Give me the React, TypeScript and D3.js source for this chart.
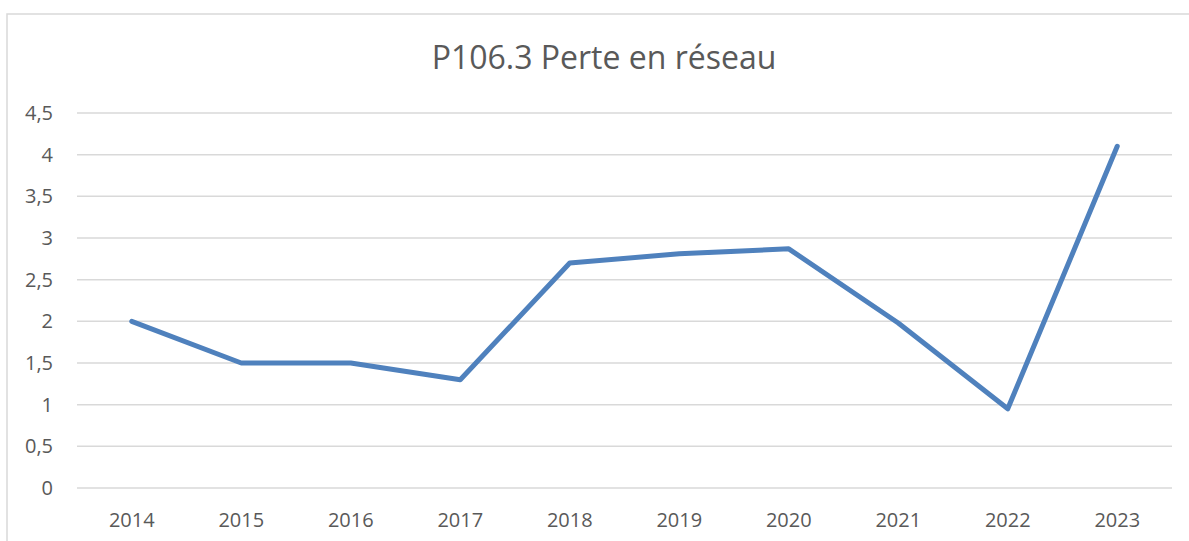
import * as d3 from 'd3';

const years = ['2014', '2015', '2016', '2017', '2018', '2019', '2020', '2021', '2022', '2023'];
const perte = [2.0, 1.5, 1.5, 1.3, 2.7, 2.81, 2.87, 1.98, 0.95, 4.1];
const yTicks = [0, 0.5, 1, 1.5, 2, 2.5, 3, 3.5, 4, 4.5];
const title = 'P106.3 Perte en réseau';

const W = 1189;
const H = 541;
const PLOT = { left: 77, right: 1172, top: 113, bottom: 488 };
const FONT = "'Open Sans', sans-serif";
const TEXT = '#595959';
const GRID = '#d9d9d9';
const LINE = '#4f81bd';

const fmt = (v: number) => String(v).replace('.', ',');

export default function App() {
  const x = d3.scaleBand<string>().domain(years).range([PLOT.left, PLOT.right]).padding(0);
  const y = d3.scaleLinear().domain([0, 4.5]).range([PLOT.bottom, PLOT.top]);
  const cx = (yr: string) => (x(yr) ?? 0) + x.bandwidth() / 2;

  const line = d3
    .line<number>()
    .x((_, i) => cx(years[i]))
    .y((d) => y(d));

  return (
    <svg
      width={W}
      height={H}
      viewBox={`0 0 ${W} ${H}`}
      style={{ position: 'absolute', left: 0, top: 0, display: 'block', background: '#fff' }}
    >
      {/* cadre du graphique, coupé à droite et en bas */}
      <rect x={7} y={14} width={W + 20} height={H + 20} fill="#fff" stroke={GRID} strokeWidth={1.5} />

      <text x={604} y={69} textAnchor="middle" fill={TEXT} fontFamily={FONT} fontSize={32}>
        {title}
      </text>

      {yTicks.map((t) => (
        <g key={t}>
          <line x1={PLOT.left} x2={PLOT.right} y1={y(t)} y2={y(t)} stroke={GRID} strokeWidth={1.5} />
          <text
            x={53}
            y={y(t)}
            dy="0.35em"
            textAnchor="end"
            fill={TEXT}
            fontFamily={FONT}
            fontSize={20}
          >
            {fmt(t)}
          </text>
        </g>
      ))}

      {years.map((yr) => (
        <text
          key={yr}
          x={cx(yr)}
          y={527}
          textAnchor="middle"
          fill={TEXT}
          fontFamily={FONT}
          fontSize={20}
        >
          {yr}
        </text>
      ))}

      <path
        d={line(perte) ?? ''}
        fill="none"
        stroke={LINE}
        strokeWidth={5}
        strokeLinejoin="round"
        strokeLinecap="round"
      />
    </svg>
  );
}
